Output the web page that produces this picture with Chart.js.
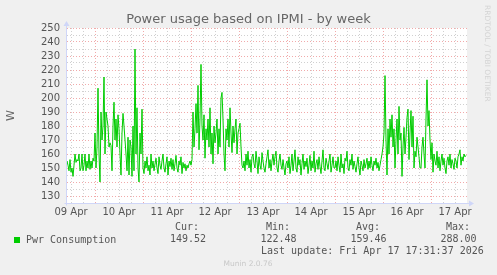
<!DOCTYPE html>
<html>
<head>
<meta charset="utf-8">
<script src="https://cdn.jsdelivr.net/npm/chart.js@4"></script>
<style>
body { margin: 0; background: #f0f0f0; }
#wrap { position: relative; width: 497px; height: 275px; overflow: hidden; }
#chart { position: absolute; left: 0; top: 0; }
.t { position: absolute; font: 10px "DejaVu Sans Mono", monospace; line-height: 12px; color: #555; white-space: pre; }
</style>
</head>
<body>
<div id="wrap">
  <canvas id="chart" width="497" height="275"></canvas>
  <div style="position:absolute;left:14px;top:237px;width:6px;height:6px;background:#00cc00;"></div>
  <div class="t" style="left:26px;top:233.5px;">Pwr Consumption</div>
  <div class="t" style="left:175px;top:221px;">Cur:</div>
  <div class="t" style="left:266px;top:221px;">Min:</div>
  <div class="t" style="left:356px;top:221px;">Avg:</div>
  <div class="t" style="left:446px;top:221px;">Max:</div>
  <div class="t" style="left:170px;top:233px;">149.52</div>
  <div class="t" style="left:260.5px;top:233px;">122.48</div>
  <div class="t" style="left:350.5px;top:233px;">159.46</div>
  <div class="t" style="left:440.5px;top:233px;">288.00</div>
  <div class="t" style="left:261px;top:244.5px;">Last update: Fri Apr 17 17:31:37 2026</div>
  <div style="position:absolute;left:0;width:496px;top:259px;text-align:center;font:7.5px 'DejaVu Sans';line-height:9px;color:#c8c8c8;">Munin 2.0.76</div>
  <div style="position:absolute;left:483px;top:5px;writing-mode:vertical-rl;font:7.5px 'DejaVu Sans';line-height:9px;color:#d4d4d4;">RRDTOOL / TOBI OETIKER</div>
</div>
<script>
// tick labels
var dayLabels = ['09 Apr', '10 Apr', '11 Apr', '12 Apr', '13 Apr', '14 Apr', '15 Apr', '16 Apr', '17 Apr'];

// half-hour readings (W), one array per day
var apr09 = [155, 152, 148, 156, 147, 150, 144, 152, 160, 154, 156, 155, 160, 148, 150, 160, 148, 152, 160, 148, 155, 150, 160, 149, 155, 150, 157, 155];
var apr10 = [175, 150, 165, 207, 160, 140, 190, 170, 180, 215, 160, 190, 185, 180, 165, 168, 166, 148, 180, 197, 170, 185, 165, 188, 178, 160, 145, 175, 189, 180, 170, 160, 148, 172, 145, 170, 165, 144, 180, 148, 235, 160, 193, 150, 140, 175, 160, 192];
var apr11 = [150, 146, 155, 150, 158, 148, 152, 145, 160, 150, 155, 148, 153, 157, 150, 146, 158, 152, 149, 155, 160, 150, 147, 153, 158, 145, 155, 151, 157, 149, 156, 148, 153, 159, 150, 147, 155, 152, 158, 146, 154, 150, 153, 148, 152, 150, 153, 155];
var apr12 = [152, 156, 190, 165, 178, 196, 175, 209, 163, 185, 224, 180, 170, 188, 157, 178, 170, 185, 165, 193, 160, 175, 153, 180, 168, 175, 185, 160, 178, 165, 200, 204, 185, 160, 148, 178, 170, 185, 165, 193, 175, 161, 180, 168, 178, 185, 160, 175];
var apr13 = [178, 182, 165, 152, 150, 155, 148, 160, 152, 162, 150, 156, 147, 158, 160, 153, 150, 162, 155, 146, 158, 152, 149, 161, 155, 150, 147, 153, 158, 163, 150, 156, 148, 155, 160, 152, 158, 162, 150, 147, 155, 160, 152, 149, 156, 150, 145, 153];
var apr14 = [155, 150, 158, 146, 152, 160, 148, 155, 163, 150, 147, 158, 152, 156, 145, 153, 160, 149, 155, 151, 157, 146, 152, 159, 148, 155, 150, 162, 147, 153, 156, 149, 158, 151, 146, 155, 163, 150, 148, 157, 153, 149, 155, 160, 147, 152, 158, 150];
var apr15 = [150, 155, 148, 158, 152, 147, 160, 150, 153, 146, 157, 155, 162, 150, 148, 156, 152, 160, 149, 155, 151, 147, 153, 158, 150, 145, 155, 152, 148, 156, 150, 153, 157, 149, 155, 150, 158, 152, 148, 155, 152, 157, 150, 154, 148, 152, 156, 160];
var apr16 = [165, 175, 216, 170, 145, 178, 160, 185, 172, 188, 165, 178, 150, 170, 185, 160, 194, 170, 175, 144, 165, 179, 160, 172, 186, 192, 156, 175, 191, 165, 187, 150, 162, 158, 172, 165, 158, 150, 150, 165, 172, 160, 150, 185, 213, 180, 191, 170];
var apr17 = [156, 168, 147, 160, 155, 152, 162, 150, 158, 148, 155, 160, 152, 157, 150, 146, 155, 158, 152, 160, 150, 156, 153, 149, 157, 155, 150, 158, 160, 163, 152, 158, 155, 160, 158, 159];

// x is hours since 09 Apr 00:00
var days = [apr09, apr10, apr11, apr12, apr13, apr14, apr15, apr16, apr17];
var points = [];
days.forEach(function(vals, d){
  var start = d == 0 ? 10 : d * 24;
  vals.forEach(function(v, i){
    points.push({ x: start + i * 0.5, y: v });
  });
});

var redGrid = 'rgba(230, 100, 100, 0.55)';
var greyGrid = 'rgba(150, 150, 150, 0.45)';
var tickFont = { family: 'DejaVu Sans', size: 10 };

// white canvas + rrdtool style axes with arrows
var frame = {
  id: 'frame',
  beforeDraw: function(chart){
    var a = chart.chartArea, c = chart.ctx;
    c.save();
    c.fillStyle = '#ffffff';
    c.fillRect(a.left, a.top, a.right - a.left, a.bottom - a.top);
    c.restore();
  },
  afterDraw: function(chart){
    var a = chart.chartArea, c = chart.ctx;
    var x0 = Math.round(a.left) - 0.5, y0 = Math.round(a.bottom) + 0.5;
    c.save();
    c.strokeStyle = '#cfd6f8';
    c.fillStyle = '#cfd6f8';
    c.lineWidth = 1;
    c.beginPath();
    c.moveTo(x0, y0 + 2);
    c.lineTo(x0, a.top - 4);
    c.moveTo(x0 - 2, y0);
    c.lineTo(a.right + 3, y0);
    c.stroke();
    c.beginPath();
    c.moveTo(x0, a.top - 7);
    c.lineTo(x0 - 3, a.top - 2);
    c.lineTo(x0 + 3, a.top - 2);
    c.closePath();
    c.fill();
    c.beginPath();
    c.moveTo(a.right + 7, y0);
    c.lineTo(a.right + 2, y0 - 3);
    c.lineTo(a.right + 2, y0 + 3);
    c.closePath();
    c.fill();
    c.restore();
  }
};

new Chart(document.getElementById('chart'), {
  type: 'line',
  data: {
    datasets: [{
      label: 'Pwr Consumption',
      data: points,
      borderColor: '#00cc00',
      borderWidth: 1,
      pointRadius: 0,
      tension: 0,
      fill: false
    }]
  },
  options: {
    responsive: false,
    animation: false,
    layout: { padding: { left: 0, right: 0, top: 0, bottom: 52 } },
    plugins: {
      legend: { display: false },
      tooltip: { enabled: false },
      title: {
        display: true,
        text: 'Power usage based on IPMI - by week',
        color: '#666',
        font: { family: 'DejaVu Sans', size: 13, weight: 'normal' },
        padding: { top: 12, bottom: 0.4 }
      }
    },
    scales: {
      x: {
        type: 'linear',
        min: 10,
        max: 210,
        afterBuildTicks: function(s){
          var t = [];
          for (var h = 12; h <= 204; h += 6) t.push({ value: h });
          s.ticks = t;
        },
        afterFit: function(s){ s.height = 20; },
        grid: {
          drawTicks: false,
          color: function(ctx){ return ctx.tick && ctx.tick.value % 24 == 0 ? redGrid : greyGrid; }
        },
        border: { display: false, dash: [1, 2] },
        ticks: {
          autoSkip: false,
          maxRotation: 0,
          padding: 3,
          color: '#555',
          font: tickFont,
          callback: function(v){ return v % 24 == 12 ? dayLabels[(v - 12) / 24] : ''; }
        }
      },
      y: {
        min: 125,
        max: 250,
        afterBuildTicks: function(s){
          var t = [];
          for (var v = 125; v <= 250; v += 5) t.push({ value: v });
          s.ticks = t;
        },
        afterFit: function(s){ s.width = 67; },
        title: {
          display: true,
          text: 'W',
          color: '#666',
          font: { family: 'DejaVu Sans', size: 11 },
          padding: { top: 5, bottom: 0 }
        },
        grid: {
          drawTicks: false,
          color: function(ctx){ return ctx.tick && ctx.tick.value % 10 == 0 ? redGrid : greyGrid; }
        },
        border: { display: false, dash: [1, 2] },
        ticks: {
          autoSkip: false,
          padding: 7,
          color: '#555',
          font: tickFont,
          callback: function(v){ return v % 10 == 0 ? v : ''; }
        }
      },
      // empty right gutter so the title stays centred on the whole image
      gutter: {
        type: 'linear',
        position: 'right',
        display: true,
        afterFit: function(s){ s.width = 30; },
        grid: { display: false },
        border: { display: false },
        ticks: { display: false }
      }
    }
  },
  plugins: [frame]
});
</script>
</body>
</html>
